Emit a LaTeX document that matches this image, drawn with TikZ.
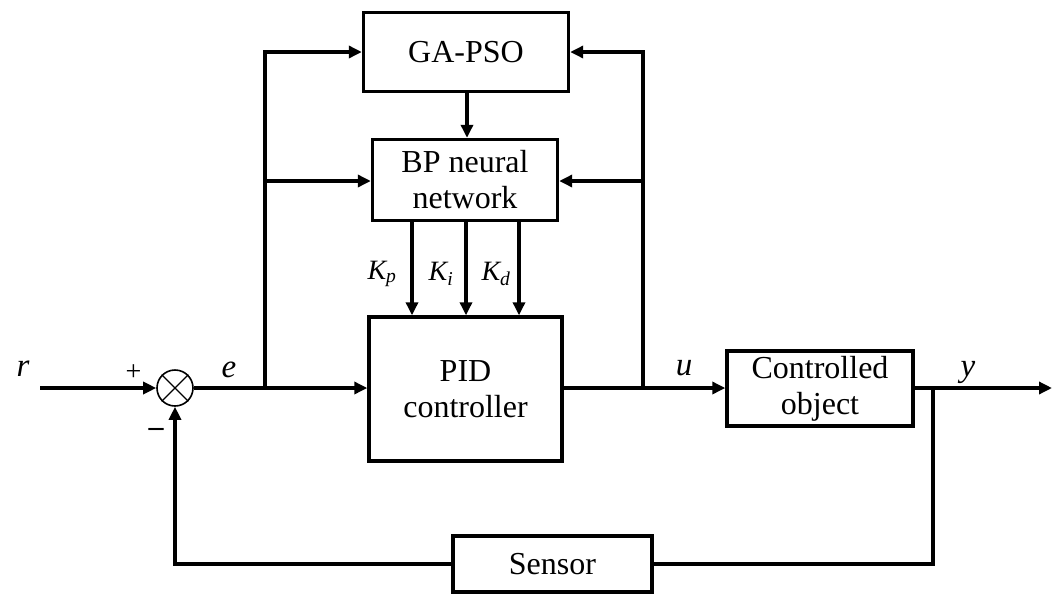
\documentclass[tikz,border=0pt]{standalone}
\usepackage{fontspec}
\setmainfont{Liberation Serif}
\usetikzlibrary{arrows.meta}
\begin{document}
\begin{tikzpicture}[x=1pt,y=-1pt,
  wire/.style={line width=3.4pt},
  >={Triangle[length=13pt,width=12pt]},
  block/.style={draw,line width=3.4pt,inner sep=0pt,align=center,
    font=\fontsize{32}{36}\selectfont},
  sig/.style={font=\fontsize{33}{33}\selectfont\itshape},
  gain/.style={font=\fontsize{28}{28}\selectfont\itshape},
  sgn/.style={font=\fontsize{28}{28}\selectfont}]
\useasboundingbox (0,0) rectangle (1061,595);

% blocks
\node[block,minimum width=205pt,minimum height=79pt] (ga) at (466,52) {GA-PSO};
\node[block,minimum width=185pt,minimum height=81pt] (bp) at (465,180) {BP neural\\network};
\node[block,minimum width=193pt,minimum height=144pt] (pid) at (465.5,389) {PID\\controller};
\node[block,minimum width=186pt,minimum height=75pt] (obj) at (820,388.5) {Controlled\\object};
\node[block,minimum width=199pt,minimum height=56pt] (sen) at (552.5,564) {Sensor};

% summing junction
\node[draw,circle,line width=1.6pt,minimum size=36pt,inner sep=0pt] (sum) at (175,388) {};
\draw[line width=1.4pt] (sum.north west) -- (sum.south east);
\draw[line width=1.4pt] (sum.north east) -- (sum.south west);

% branch points and route corners
\coordinate (in) at (40,388);
\coordinate (bl) at (265,388);
\coordinate (br) at (643,388);
\coordinate (by) at (933,388);
\coordinate (out) at (1052,388);
\coordinate (fbr) at (933,564);
\coordinate (fbl) at (175,564);

\begin{scope}[wire]
% forward path
\draw[->] (in) -- (sum.west);
\draw (sum.east) -- (bl);
\draw[->] (bl) -- (pid.west |- bl);
\draw (pid.east |- br) -- (br);
\draw[->] (br) -- (obj.west |- br);
\draw (obj.east |- by) -- (by);
\draw[->] (by) -- (out);

% tuning loops
\draw[->] (bl) -- (265,52) -- (ga.west |- 0,52);
\draw[->] (265,181) -- (bp.west |- 0,181);
\draw[->] (br) -- (643,52) -- (ga.east |- 0,52);
\draw[->] (643,181) -- (bp.east |- 0,181);
\draw[->] (ga.south -| 467,0) -- (bp.north -| 467,0);

% gains
\draw[->] (bp.south -| 412,0) -- (pid.north -| 412,0);
\draw[->] (bp.south -| 466,0) -- (pid.north -| 466,0);
\draw[->] (bp.south -| 519,0) -- (pid.north -| 519,0);

% feedback
\draw (by) -- (fbr) -- (sen.east);
\draw[->] (sen.west) -- (fbl) -- (sum.south);
\end{scope}

% labels
\node[sig] (lr) at (23,369) {r};
\node[sig] (le) at (229,370) {e};
\node[sig] (lu) at (684,368) {u};
\node[sig] (ly) at (968,372) {y};
\node[sgn] (lp) at (133.5,373) {+};
\node[font=\fontsize{30}{30}\selectfont\bfseries] (lm) at (156,432) {–};
\node[gain] (kp) at (382,274) {K\textsubscript{p}};
\node[gain] (ki) at (441,274) {K\textsubscript{i}};
\node[gain] (kd) at (496,274) {K\textsubscript{d}};
\end{tikzpicture}
\end{document}
